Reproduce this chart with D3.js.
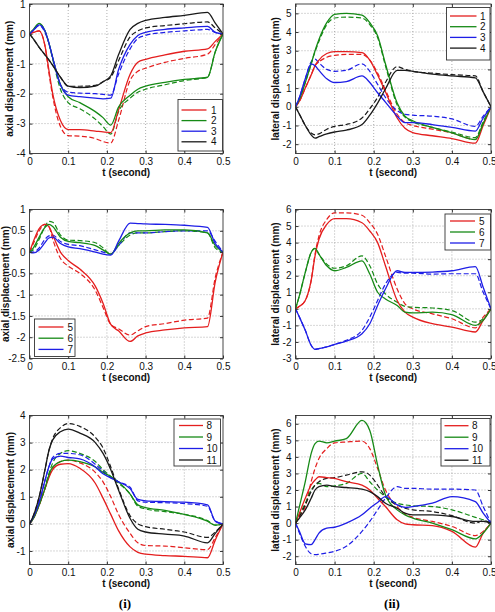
<!DOCTYPE html>
<html><head><meta charset="utf-8">
<script src="https://cdn.jsdelivr.net/npm/d3@7/dist/d3.min.js"></script>
<style>
body{margin:0;background:#fff;}
text{font-family:"Liberation Sans",Arial,sans-serif;}
</style></head>
<body>
<script>
// ---------- DATA ----------
const TIME = [0, .01, .025, .04, .05, .06, .08, .1, .13, .17, .19, .21, .23, .26, .28, .3, .35, .4, .46, .48, .5];
const X_TICKS = [0, 0.1, 0.2, 0.3, 0.4, 0.5];
const COLORS = ["#e41e1e", "#168a16", "#1e1ee6", "#1a1a1a"];

// Panel (i) top : axial, points 1-4
const A1_labels = ["1","2","3","4"];
const A1_yTicks = [-4,-3,-2,-1,0,1];
const A1_s1 = [0,0.05,0.1,-0.4,-1.2,-2.0,-2.9,-3.2,-3.2,-3.25,-3.28,-3.3,-2.55,-1.35,-0.95,-0.85,-0.7,-0.58,-0.5,-0.25,0];
const A1_s1d = [0,0.05,0.1,-0.4,-1.3,-2.1,-3.1,-3.4,-3.42,-3.5,-3.6,-3.65,-2.9,-1.55,-1.25,-1.15,-0.95,-0.82,-0.68,-0.35,0];
const A1_s2 = [0,0.15,0.35,0.1,-0.3,-0.8,-1.7,-2.1,-2.3,-2.6,-2.8,-3.05,-2.45,-2.05,-1.85,-1.75,-1.62,-1.52,-1.45,-0.6,0];
const A1_s2d = [0,0.15,0.33,0.1,-0.3,-0.85,-1.85,-2.3,-2.5,-2.85,-3.1,-3.35,-2.6,-2.15,-1.95,-1.85,-1.7,-1.56,-1.45,-0.6,0];
const A1_s3 = [0,0.12,0.3,0.1,-0.3,-0.8,-1.7,-2.05,-2.1,-2.15,-2.17,-2.15,-1.2,-0.35,-0.05,0.05,0.15,0.2,0.25,0.05,0];
const A1_s3d = [0,0.12,0.28,0.05,-0.3,-0.8,-1.7,-1.95,-1.98,-2.0,-2.02,-2.05,-1.35,-0.5,-0.15,-0.05,0.05,0.1,0.15,0.05,0];
const A1_s4 = [0,-0.17,-0.45,-0.7,-0.87,-1.05,-1.45,-1.75,-1.8,-1.75,-1.6,-1.4,-0.7,0.15,0.35,0.45,0.55,0.62,0.72,0.36,0];
const A1_s4d = [0,-0.17,-0.45,-0.7,-0.87,-1.05,-1.45,-1.75,-1.75,-1.72,-1.6,-1.45,-0.9,-0.1,0.1,0.2,0.28,0.34,0.4,0.2,0];

// Panel (ii) top : lateral, points 1-4
const L1_labels = ["1","2","3","4"];
const L1_yTicks = [-2,-1,0,1,2,3,4,5];
const L1_s1 = [0,0.3,1.0,1.7,2.2,2.5,2.85,2.95,2.95,2.9,2.5,1.7,0.8,-0.6,-1.15,-1.38,-1.55,-1.7,-1.95,-1.0,0];
const L1_s1d = [0,0.3,1.0,1.7,2.2,2.4,2.65,2.75,2.8,2.8,2.5,1.8,0.9,-0.4,-0.85,-1.0,-1.2,-1.4,-1.75,-0.9,0];
const L1_s2 = [0,0.4,1.3,2.3,3.0,3.6,4.5,4.95,5.0,4.9,4.5,3.8,2.3,0.2,-0.5,-0.75,-1.1,-1.4,-1.75,-0.9,0];
const L1_s2d = [0,0.4,1.3,2.3,2.95,3.5,4.4,4.75,4.8,4.75,4.4,3.7,2.2,0.1,-0.55,-0.8,-1.1,-1.35,-1.65,-0.8,0];
const L1_s3 = [0,0.5,1.5,2.3,2.2,1.95,1.5,1.3,1.35,1.65,1.3,0.75,0.25,-0.5,-0.85,-0.85,-0.95,-1.1,-1.3,-0.6,0];
const L1_s3d = [0,0.5,1.5,2.4,2.55,2.35,2.0,1.9,1.95,2.3,1.9,1.2,0.5,-0.2,-0.4,-0.45,-0.5,-0.65,-1.05,-0.5,0];
const L1_s4 = [0,-0.4,-1.0,-1.5,-1.68,-1.6,-1.45,-1.35,-1.25,-0.95,-0.45,0.2,0.95,1.95,1.95,1.9,1.75,1.65,1.55,0.8,0];
const L1_s4d = [0,-0.4,-1.0,-1.4,-1.5,-1.45,-1.2,-1.05,-0.95,-0.6,-0.1,0.5,1.3,2.15,2.0,1.9,1.8,1.72,1.65,0.8,0];

// Panel (i) middle : axial, points 5-7
const A2_labels = ["5","6","7"];
const A2_yTicks = [-2.5,-2,-1.5,-1,-0.5,0,0.5,1];
const A2_s5 = [0,0.25,0.55,0.65,0.6,0.4,0.0,-0.2,-0.4,-0.8,-1.2,-1.7,-1.85,-2.1,-1.97,-1.9,-1.83,-1.78,-1.75,-0.7,0];
const A2_s5d = [0,0.2,0.5,0.65,0.6,0.3,-0.15,-0.33,-0.5,-0.9,-1.3,-1.7,-1.8,-1.95,-1.85,-1.75,-1.68,-1.6,-1.55,-0.6,0];
const A2_s6 = [0,0.1,0.35,0.58,0.65,0.6,0.35,0.25,0.22,0.15,0.05,-0.05,0.2,0.45,0.5,0.5,0.52,0.52,0.45,0.15,0];
const A2_s6d = [0,0.05,0.3,0.6,0.72,0.7,0.4,0.28,0.27,0.22,0.1,-0.05,0.15,0.4,0.45,0.45,0.48,0.5,0.45,0.1,0];
const A2_s7 = [0,-0.02,0.05,0.22,0.33,0.35,0.2,0.12,0.08,0.0,-0.05,-0.07,0.25,0.68,0.67,0.66,0.65,0.63,0.58,0.2,0];
const A2_s7d = [0,0.0,0.1,0.3,0.38,0.4,0.25,0.18,0.15,0.05,0.0,-0.05,0.15,0.45,0.45,0.45,0.48,0.5,0.5,0.25,0];

// Panel (ii) middle : lateral, points 5-7
const L2_labels = ["5","6","7"];
const L2_yTicks = [-3,-2,-1,0,1,2,3,4,5,6];
const L2_s5 = [0,0.15,0.5,1.7,3.2,4.2,5.1,5.45,5.45,5.2,4.7,4.0,2.6,0.5,-0.2,-0.5,-0.9,-1.1,-1.4,-0.7,0];
const L2_s5d = [0,0.15,0.5,1.7,3.3,4.4,5.4,5.8,5.8,5.65,5.2,4.5,3.2,1.2,0.3,0.0,-0.3,-0.6,-1.15,-0.5,0];
const L2_s6 = [0,0.8,2.2,3.4,3.65,3.3,2.6,2.3,2.5,2.9,2.1,1.0,0.6,0.2,-0.2,-0.25,-0.2,-0.35,-1.0,-0.7,0];
const L2_s6d = [0,0.8,2.2,3.4,3.65,3.3,2.7,2.45,2.6,3.2,2.6,1.5,0.9,0.4,0.15,0.1,0.05,-0.1,-0.8,-0.6,0];
const L2_s7 = [0,-0.5,-1.3,-2.2,-2.45,-2.4,-2.3,-2.15,-1.95,-1.5,-0.9,0.2,1.2,2.3,2.2,2.2,2.22,2.3,2.55,1.3,0];
const L2_s7d = [0,-0.5,-1.3,-2.2,-2.45,-2.4,-2.3,-2.15,-1.9,-1.3,-0.5,0.5,1.5,2.2,2.15,2.15,2.1,2.12,2.12,1.0,0];

// Panel (i) bottom : axial, points 8-11
const A3_labels = ["8","9","10","11"];
const A3_yTicks = [-1,0,1,2,3,4];
const A3_s8 = [0,0.2,0.7,1.3,1.7,2.0,2.2,2.22,2.05,1.5,0.95,0.35,-0.25,-0.85,-1.05,-1.12,-1.17,-1.2,-1.25,-0.6,0];
const A3_s8d = [0,0.2,0.7,1.3,1.75,2.05,2.3,2.35,2.25,1.9,1.55,1.0,0.35,-0.35,-0.7,-0.8,-0.82,-0.88,-0.95,-0.5,0];
const A3_s9 = [0,0.2,0.7,1.3,1.8,2.1,2.3,2.35,2.3,2.1,1.9,1.75,1.55,1.1,0.7,0.6,0.5,0.35,0.1,-0.05,0];
const A3_s9d = [0,0.2,0.7,1.35,1.85,2.25,2.6,2.7,2.6,2.3,2.0,1.75,1.5,1.1,0.65,0.55,0.45,0.35,0.12,-0.05,0];
const A3_s10 = [0,0.25,0.8,1.6,2.1,2.4,2.5,2.45,2.4,2.1,1.85,1.7,1.55,1.3,0.9,0.85,0.82,0.8,0.7,0.1,0];
const A3_s10d = [0,0.25,0.8,1.6,2.1,2.45,2.6,2.6,2.55,2.2,1.95,1.7,1.55,1.35,0.85,0.8,0.78,0.75,0.65,0.1,0];
const A3_s11 = [0,0.3,1.0,2.0,2.7,3.1,3.4,3.5,3.35,3.0,2.6,2.0,1.25,0.2,-0.2,-0.3,-0.38,-0.45,-0.7,-0.35,0];
const A3_s11d = [0,0.3,1.0,2.0,2.7,3.15,3.55,3.7,3.6,3.2,2.8,2.1,1.3,0.3,0.0,-0.1,-0.2,-0.3,-0.5,-0.3,0];

// Panel (ii) bottom : lateral, points 8-11
const L3_labels = ["8","9","10","11"];
const L3_yTicks = [-2,-1,0,1,2,3,4,5,6];
const L3_s8 = [0,0.6,1.5,2.3,2.6,2.8,2.75,2.7,2.5,2.3,2.0,1.5,1.0,0.2,-0.05,-0.1,-0.15,-0.5,-1.45,-0.6,0];
const L3_s8d = [0,0.4,1.0,2.5,3.3,3.9,4.5,4.85,4.9,4.95,4.5,3.3,2.0,1.0,0.55,0.35,0.1,-0.2,-0.75,-0.5,0];
const L3_s9 = [0,1.0,2.5,4.2,4.8,4.95,4.85,4.95,5.1,6.2,5.6,3.5,1.7,0.8,0.5,0.3,0.0,-0.4,-0.95,-0.6,0];
const L3_s9d = [0,0.5,1.2,2.0,2.3,2.4,2.2,2.25,2.4,3.0,2.5,2.0,1.6,1.2,1.1,1.05,1.0,0.8,0.35,0.2,0];
const L3_s10 = [0,-0.5,-1.25,-1.3,-1.0,-0.6,-0.3,-0.25,0.0,0.5,0.9,1.25,1.6,1.1,0.95,1.0,1.2,1.6,1.3,0.6,0];
const L3_s10d = [0,-0.6,-1.4,-1.85,-1.9,-1.88,-1.8,-1.7,-1.4,-0.5,0.1,0.8,1.5,2.2,2.1,2.1,2.05,2.05,2.0,1.0,0];
const L3_s11 = [0,0.3,0.8,1.5,2.0,2.2,2.3,2.2,2.15,2.05,1.9,1.6,1.2,0.9,0.6,0.5,0.5,0.4,0.1,0.1,0];
const L3_s11d = [0,0.4,1.1,1.9,2.3,2.5,2.7,2.75,2.9,3.1,2.9,2.3,1.6,1.1,0.9,0.8,0.7,0.45,0.0,0.15,0];

// ---------- LAYOUT ----------
const LEFT = [29.5, 223], RIGHT = [295.5, 491];
const ROWS = [[4, 153.5], [209.5, 358.5], [415.5, 564.5]];

const panels = [
  {cols: LEFT, row: ROWS[0], yDom: [-4, 1], yTicks: A1_yTicks, ylabel: "axial displacement (mm)", ylx: 9.5,
   labels: A1_labels, solid: [A1_s1, A1_s2, A1_s3, A1_s4], dashed: [A1_s1d, A1_s2d, A1_s3d, A1_s4d],
   leg: {x: 178, y: 99.5, w: 44.5, h: 51.5, l0: 181.5, l1: 206.5, tx: 211, r0: 110, dr: 10.6}},
  {cols: RIGHT, row: ROWS[0], yDom: [-2.5, 5.5], yTicks: L1_yTicks, ylabel: "lateral displacement (mm)", ylx: 275,
   labels: L1_labels, solid: [L1_s1, L1_s2, L1_s3, L1_s4], dashed: [L1_s1d, L1_s2d, L1_s3d, L1_s4d],
   leg: {x: 446.5, y: 7.5, w: 43.5, h: 52.5, l0: 450, l1: 476.5, tx: 480, r0: 16, dr: 10.7}},
  {cols: LEFT, row: ROWS[1], yDom: [-2.5, 1], yTicks: A2_yTicks, ylabel: "axial displacement (mm)", ylx: 5.5,
   labels: A2_labels, solid: [A2_s5, A2_s6, A2_s7], dashed: [A2_s5d, A2_s6d, A2_s7d],
   leg: {x: 34.5, y: 319, w: 40.5, h: 37.5, l0: 38.5, l1: 63.5, tx: 67.5, r0: 327, dr: 11.2}},
  {cols: RIGHT, row: ROWS[1], yDom: [-3, 6], yTicks: L2_yTicks, ylabel: "lateral displacement (mm)", ylx: 275,
   labels: L2_labels, solid: [L2_s5, L2_s6, L2_s7], dashed: [L2_s5d, L2_s6d, L2_s7d],
   leg: {x: 445, y: 214, w: 45.5, h: 36, l0: 450, l1: 475, tx: 479, r0: 221, dr: 11}},
  {cols: LEFT, row: ROWS[2], yDom: [-1.5, 4], yTicks: A3_yTicks, ylabel: "axial displacement (mm)", ylx: 10,
   labels: A3_labels, solid: [A3_s8, A3_s9, A3_s10, A3_s11], dashed: [A3_s8d, A3_s9d, A3_s10d, A3_s11d],
   leg: {x: 174, y: 419, w: 46.5, h: 47, l0: 179, l1: 203, tx: 206.5, r0: 425.5, dr: 11.5}},
  {cols: RIGHT, row: ROWS[2], yDom: [-2.5, 6.5], yTicks: L3_yTicks, ylabel: "lateral displacement (mm)", ylx: 275,
   labels: L3_labels, solid: [L3_s8, L3_s9, L3_s10, L3_s11], dashed: [L3_s8d, L3_s9d, L3_s10d, L3_s11d],
   leg: {x: 441, y: 418.5, w: 49, h: 47.5, l0: 444.5, l1: 468.5, tx: 472, r0: 425.7, dr: 11.5}}
];

const svg = d3.select("body").append("svg").attr("width", 495).attr("height", 612);
const fmt = d => String(d);

panels.forEach(p => {
  const [x0, x1] = p.cols, [y0, y1] = p.row;
  const x = d3.scaleLinear().domain([0, 0.5]).range([x0, x1]);
  const y = d3.scaleLinear().domain(p.yDom).range([y1, y0]);
  const g = svg.append("g");

  // grid
  g.append("g").selectAll("line").data(X_TICKS.slice(1, -1)).join("line")
    .attr("x1", d => x(d)).attr("x2", d => x(d)).attr("y1", y0).attr("y2", y1)
    .attr("stroke", "#9a9a9a").attr("stroke-width", 0.8).attr("stroke-dasharray", "1,2");
  g.append("g").selectAll("line").data(p.yTicks.filter(v => v > p.yDom[0] && v < p.yDom[1])).join("line")
    .attr("x1", x0).attr("x2", x1).attr("y1", d => y(d)).attr("y2", d => y(d))
    .attr("stroke", "#9a9a9a").attr("stroke-width", 0.8).attr("stroke-dasharray", "1,2");

  // lines
  const line = d3.line().x((d, i) => x(TIME[i])).y(d => y(d)).curve(d3.curveMonotoneX);
  const clipId = "c" + Math.round(x0) + "_" + Math.round(y0);
  g.append("clipPath").attr("id", clipId).append("rect").attr("x", x0).attr("y", y0).attr("width", x1 - x0).attr("height", y1 - y0);
  const lg = g.append("g").attr("clip-path", `url(#${clipId})`);
  p.dashed.forEach((s, i) => {
    lg.append("path").datum(s).attr("d", line).attr("fill", "none")
      .attr("stroke", COLORS[i]).attr("stroke-width", 1.2).attr("stroke-dasharray", "5,2.5");
  });
  p.solid.forEach((s, i) => {
    lg.append("path").datum(s).attr("d", line).attr("fill", "none")
      .attr("stroke", COLORS[i]).attr("stroke-width", 1.3);
  });

  // axes
  const ax = (sel) => sel.selectAll("text").attr("font-size", 10).attr("fill", "#111");
  const bx = g.append("g").attr("transform", `translate(0,${y1})`)
    .call(d3.axisBottom(x).tickValues(X_TICKS).tickFormat(fmt).tickSize(-3).tickPadding(4))
    .call(s => s.select(".domain").remove()).call(ax)
    .call(s => s.selectAll("line").attr("stroke", "#333"));
  if (x1 > 480) {
    // keep the last tick label inside the page
    bx.selectAll(".tick").filter(d => d === 0.5).select("text").attr("text-anchor", "end").attr("dx", "0.5em");
  }
  g.append("g").attr("transform", `translate(${x0},0)`)
    .call(d3.axisLeft(y).tickValues(p.yTicks).tickFormat(fmt).tickSize(-3).tickPadding(4))
    .call(s => s.select(".domain").remove()).call(ax)
    .call(s => s.selectAll("line").attr("stroke", "#333"));
  g.append("g").attr("transform", `translate(0,${y0})`)
    .call(d3.axisTop(x).tickValues(X_TICKS).tickFormat("").tickSize(-3))
    .call(s => s.select(".domain").remove()).call(s => s.selectAll("line").attr("stroke", "#333"));
  g.append("g").attr("transform", `translate(${x1},0)`)
    .call(d3.axisRight(y).tickValues(p.yTicks).tickFormat("").tickSize(-3))
    .call(s => s.select(".domain").remove()).call(s => s.selectAll("line").attr("stroke", "#333"));

  // frame
  g.append("rect").attr("x", x0).attr("y", y0).attr("width", x1 - x0).attr("height", y1 - y0)
    .attr("fill", "none").attr("stroke", "#333").attr("stroke-width", 0.9);

  // labels
  g.append("text").attr("x", (x0 + x1) / 2).attr("y", y1 + 22).attr("text-anchor", "middle")
    .attr("font-size", 10).attr("font-weight", "bold").attr("fill", "#111").text("t (second)");
  g.append("text").attr("transform", `translate(${p.ylx},${(y0 + y1) / 2}) rotate(-90)`)
    .attr("dy", "0.35em").attr("text-anchor", "middle")
    .attr("font-size", 10).attr("font-weight", "bold").attr("fill", "#111").text(p.ylabel);

  // legend
  const L = p.leg;
  g.append("rect").attr("x", L.x).attr("y", L.y).attr("width", L.w).attr("height", L.h)
    .attr("fill", "#fff").attr("stroke", "#333").attr("stroke-width", 0.9);
  p.labels.forEach((lab, i) => {
    const yy = L.r0 + i * L.dr;
    g.append("line").attr("x1", L.l0).attr("x2", L.l1).attr("y1", yy).attr("y2", yy)
      .attr("stroke", COLORS[i]).attr("stroke-width", 1.3);
    g.append("text").attr("x", L.tx).attr("y", yy).attr("dy", "0.35em")
      .attr("font-size", 10).attr("fill", "#111").text(lab);
  });
});

// captions
svg.append("text").attr("x", 125).attr("y", 608).attr("text-anchor", "middle")
  .style("font-family", "'Liberation Serif','Times New Roman',serif").attr("font-size", 13).attr("font-weight", "bold").text("(i)");
svg.append("text").attr("x", 392).attr("y", 608).attr("text-anchor", "middle")
  .style("font-family", "'Liberation Serif','Times New Roman',serif").attr("font-size", 13).attr("font-weight", "bold").text("(ii)");
</script>
</body></html>
